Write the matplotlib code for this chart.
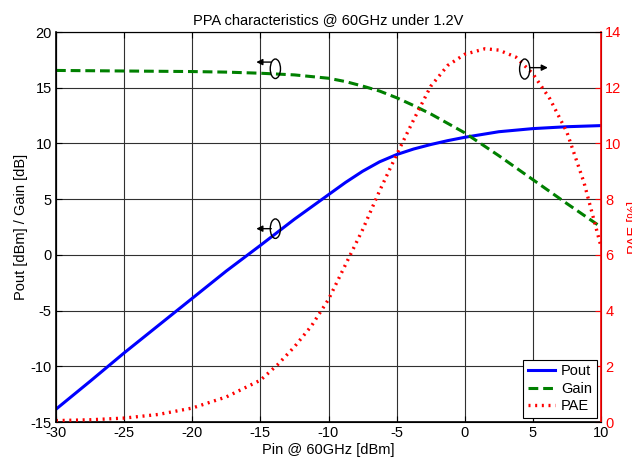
import matplotlib
matplotlib.use("Agg")
import matplotlib.pyplot as plt
from matplotlib.patches import Ellipse

# ---- data ----
pout_pin = [-30, -27.5, -25, -22.5, -20, -17.5, -15, -12.5, -10, -8.75, -7.5, -6.25, -5, -3.75, -2.5, -1.25, 0, 2.5, 5, 7.5, 10]
pout = [-13.85, -11.35, -8.8, -6.35, -3.9, -1.45, 0.85, 3.2, 5.4, 6.5, 7.5, 8.35, 9.0, 9.5, 9.9, 10.25, 10.55, 11.05, 11.33, 11.5, 11.6]

gain_pin = [-30, -25, -20, -17.5, -15, -12.5, -10, -8.75, -7.5, -6.25, -5, -3.75, -2.5, -1.25, 0, 2.5, 5, 7.5, 10]
gain = [16.55, 16.5, 16.45, 16.4, 16.3, 16.15, 15.85, 15.55, 15.15, 14.7, 14.1, 13.4, 12.65, 11.8, 10.95, 8.9, 6.75, 4.6, 2.5]

pae_pin = [-30, -27.5, -25, -22.5, -20, -17.5, -15, -13.75, -12.5, -11.25, -10, -8.75, -7.5, -6.25, -5,
           -3.75, -2.5, -1.25, 0, 1.5, 2.5, 3.75, 5, 6.25, 7.5, 8.75, 10]
pae = [0.05, 0.08, 0.14, 0.27, 0.5, 0.9, 1.5, 2.05, 2.7, 3.45, 4.4, 5.65, 6.9, 8.3, 9.6,
       10.85, 12.05, 12.8, 13.2, 13.4, 13.35, 13.1, 12.5, 11.6, 10.4, 8.6, 6.3]

x_ticks = [-30, -25, -20, -15, -10, -5, 0, 5, 10]
left_ticks = [-15, -10, -5, 0, 5, 10, 15, 20]
right_ticks = [0, 2, 4, 6, 8, 10, 12, 14]

title = "PPA characteristics @ 60GHz under 1.2V"
xlabel = "Pin @ 60GHz [dBm]"
ylabel_left = "Pout [dBm] / Gain [dB]"
ylabel_right = "PAE [%]"

plt.rcParams['font.family'] = ['Liberation Sans', 'DejaVu Sans']
plt.rcParams['axes.unicode_minus'] = False

fig = plt.figure(figsize=(6.32, 4.59), dpi=100)
ax = fig.add_axes([56/632, 1-422/459, (601-56)/632, (422-32)/459])
ax2 = ax.twinx()

l1, = ax.plot(pout_pin, pout, color='#0000ff', lw=2.2, label='Pout')
l2, = ax.plot(gain_pin, gain, color='#008000', lw=2.2, ls=(0, (3.2, 1.6)), label='Gain')
l3, = ax2.plot(pae_pin, pae, color='#ff0000', lw=2.4, ls=(0, (0.6, 1.4)), label='PAE')

ax.set_xlim(-30, 10)
ax.set_ylim(-15, 20)
ax2.set_ylim(0, 14)
ax.set_xticks(x_ticks)
ax.set_yticks(left_ticks)
ax2.set_yticks(right_ticks)
ax.grid(True, color='#303030', lw=0.8)
ax.set_axisbelow(True)

ax.tick_params(direction='in', length=4, labelsize=10.5, top=True, colors='black', pad=3)
ax2.tick_params(direction='in', length=4, labelsize=10.5, colors='#ff0000', pad=3)
for s in ['left', 'bottom', 'top']:
    ax.spines[s].set_color('black')
    ax2.spines[s].set_color('black')
ax2.spines['right'].set_color('#ff0000')
ax2.spines['right'].set_linewidth(1.2)
ax.spines['left'].set_linewidth(1.2)
ax.spines['bottom'].set_linewidth(1.2)

ax.set_title(title, fontsize=10.5, pad=6)
ax.set_xlabel(xlabel, fontsize=10.5, labelpad=2)
ax.set_ylabel(ylabel_left, fontsize=10.5, labelpad=2)
ax2.set_ylabel(ylabel_right, fontsize=10.5, color='#ff0000', labelpad=4)

# annotation ellipses with arrows
def marker(axis, xc, yc, tail_x, tip_x, ay, w, h):
    e = Ellipse((xc, yc), w, h, fill=False, ec='black', lw=1.0, zorder=5)
    axis.add_patch(e)
    axis.annotate('', xy=(tip_x, ay), xytext=(tail_x, ay),
                  arrowprops=dict(arrowstyle='-|>', color='black', lw=1.0,
                                  mutation_scale=9, shrinkA=0, shrinkB=0), zorder=6)

marker(ax, -13.9, 16.7, -14.2, -15.3, 17.3, 0.75, 1.75)
marker(ax, -13.9, 2.35, -14.2, -15.3, 2.35, 0.75, 1.75)
marker(ax2, 4.4, 12.67, 4.75, 6.1, 12.72, 0.75, 0.72)

leg = ax2.legend(handles=[l1, l2, l3], loc='lower right', fontsize=10.5,
                 frameon=True, fancybox=False, edgecolor='black', framealpha=1,
                 borderpad=0.3, handlelength=1.9, handletextpad=0.4, labelspacing=0.25,
                 borderaxespad=0.3)
leg.get_frame().set_linewidth(0.8)

fig.savefig('out.png', dpi=100)
